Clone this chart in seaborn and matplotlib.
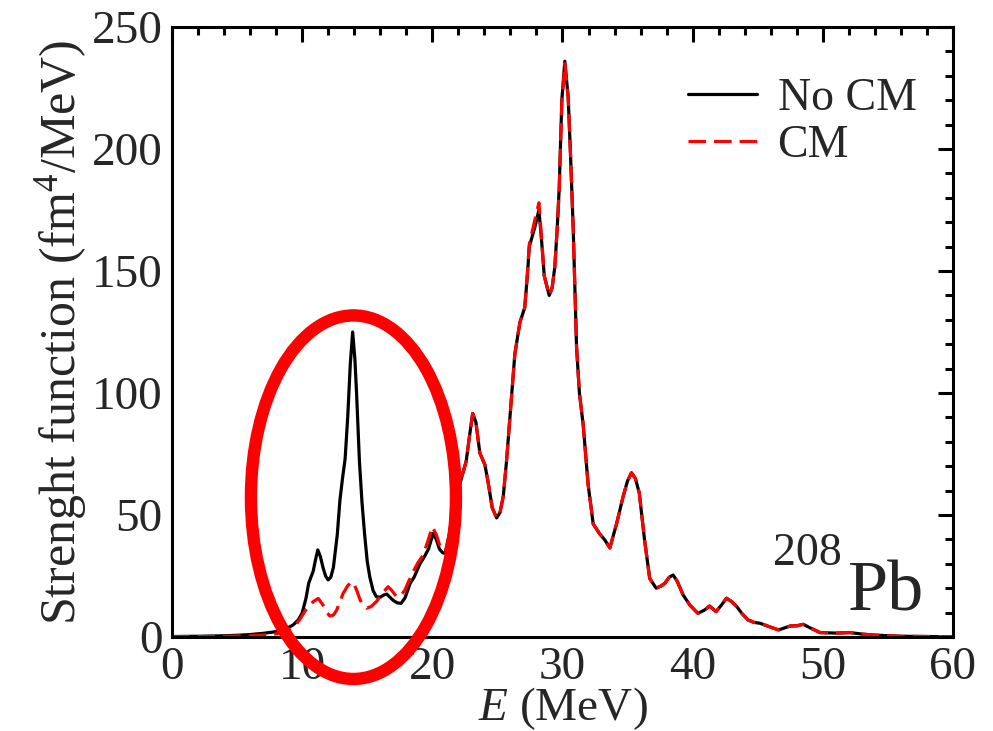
import numpy as np
import seaborn as sns
import matplotlib.pyplot as plt
from matplotlib.patches import Ellipse
from matplotlib.ticker import MultipleLocator

# Strength function of 208Pb, with and without centre-of-mass correction
# low-energy part (E < 21 MeV), where the two curves differ
e_low_nocm = [0, 2, 4, 5, 6, 7, 8, 8.7, 9.3, 9.7, 10.0, 10.3, 10.5, 10.85, 11.0,
              11.2, 11.4, 11.6, 11.8, 12.0, 12.2, 12.4, 12.7, 12.9, 13.1, 13.3,
              13.5, 13.7, 13.88, 14.05, 14.18, 14.4, 14.6, 14.8, 15.0, 15.2,
              15.45, 15.7, 16.0, 16.3, 16.5, 16.8, 17.0, 17.3, 17.6, 17.9, 18.3,
              18.6, 19.05, 19.4, 19.7, 20.07, 20.3, 20.55, 20.8]
s_low_nocm = [0.2, 0.3, 0.5, 0.7, 1.0, 1.5, 2.2, 3.2, 4.9, 7, 9.8, 16, 22, 27, 31,
              35.7, 33, 28.5, 25, 23.4, 24.5, 28.5, 42, 56, 65, 73,
              90, 112, 125, 114, 100, 72, 55, 42, 31, 24.5,
              19, 16.5, 16.3, 17.3, 17.6, 16, 15, 14, 13.8, 16, 22,
              24.5, 30, 33, 36, 42.5, 40, 36, 34.5]

e_low_cm = [0, 2, 4, 6, 7, 8, 8.7, 9.3, 9.8, 10.2, 10.5, 10.85, 11.24, 11.6, 11.9,
            12.13, 12.4, 12.65, 12.9, 13.15, 13.5, 13.8, 14.0, 14.18, 14.4, 14.57,
            14.95, 15.3, 15.7, 16.1, 16.6, 16.9, 17.25, 17.6, 17.9, 18.2, 18.53,
            18.9, 19.3, 19.7, 20.0, 20.3, 20.6]
s_low_cm = [0.1, 0.15, 0.25, 0.5, 0.8, 1.3, 2.2, 3.8, 7, 10.5, 12.5, 14.5, 15.8, 13.1, 10,
            8.6, 9, 11, 14.5, 17.9, 21, 22.7, 21.5, 19.3, 16, 13.8,
            11.8, 12.5, 14.5, 17.5, 20.6, 19, 16.5, 17, 19.3, 23, 26.8,
            30.5, 33.6, 40, 45.2, 42, 37]

# high-energy part (E >= 21 MeV), curves nearly on top of each other
e_high = [21.0, 21.3, 21.6, 22.1, 22.6, 22.9, 23.1, 23.35, 23.65, 24.04, 24.3, 24.6,
          24.94, 25.2, 25.45, 25.7, 25.96, 26.34, 26.73, 27.1, 27.3, 27.45, 27.88,
          28.19, 28.4, 28.6, 28.98, 29.2, 29.41, 29.6, 29.75, 29.95, 30.18, 30.44,
          30.6, 30.82, 31.08, 31.3, 31.59, 31.97, 32.36, 32.87, 33.26, 33.64, 34.15,
          34.66, 35.0, 35.3, 35.6, 35.9, 36.3, 36.7, 37.2, 37.6, 37.86, 38.2, 38.5,
          38.8, 39.27, 39.8, 40.4, 40.9, 41.3, 41.8, 42.2, 42.6, 43.0, 43.4, 43.8,
          44.26, 44.7, 45.2, 45.9, 46.6, 47.1, 47.5, 48.0, 48.5, 49.0, 49.8, 51.0,
          52.1, 53.0, 53.9, 56, 60]
s_high_nocm = [34.3, 42, 52, 62.5, 72, 84, 91.6, 88, 75.4, 70.6, 63, 53,
               48.8, 51, 57.6, 72, 90, 116, 129, 135, 148, 160, 168,
               175, 162, 148, 140, 143, 151.6, 168, 184, 220, 236, 221,
               200, 168, 119, 100, 87, 62.5, 46.3, 42.2, 39.7, 36.5, 46.3,
               57.6, 64, 67.3, 65, 59, 40, 24, 20, 21, 22, 24.5, 25.4,
               23, 17.2, 13, 9.7, 11, 12.7, 10.4, 13, 15.9, 14.5, 12.4, 9.5,
               7, 6, 5.6, 4.2, 2.9, 3.8, 4.5, 4.6, 5.2, 3.8, 1.8, 1.6,
               1.8, 1.2, 0.8, 0.3, 0.1]
s_high_cm = [35, 42, 52, 62.5, 72, 84, 91.6, 88, 75.4, 70.6, 63, 53,
             48.8, 51, 57.6, 72, 90, 116, 129, 135, 149, 161, 171,
             178, 163, 148, 140, 143, 151.6, 168, 184, 219, 235, 221,
             200, 168, 119, 100, 87, 62.5, 46.3, 42.2, 39.7, 36.5, 46.3,
             57.6, 64, 67.3, 65, 59, 40, 24, 20, 21, 22, 24.5, 25.4,
             23, 17.2, 13, 9.7, 11, 12.7, 10.4, 13, 15.9, 14.5, 12.4, 9.5,
             7, 6, 5.6, 4.2, 2.9, 3.8, 4.5, 4.6, 5.2, 3.8, 1.8, 1.6,
             1.8, 1.2, 0.8, 0.3, 0.1]

e_nocm = np.array(e_low_nocm + e_high)
s_nocm = np.array(s_low_nocm + s_high_nocm)
e_cm = np.array(e_low_cm + e_high)
s_cm = np.array(s_low_cm + s_high_cm)

sns.set_style("white")
plt.rcParams['font.family'] = ['Liberation Serif', 'DejaVu Serif']
plt.rcParams['mathtext.fontset'] = 'custom'
plt.rcParams['mathtext.rm'] = 'Liberation Serif'
plt.rcParams['mathtext.it'] = 'Liberation Serif:italic'

fig = plt.figure(figsize=(9.93, 7.31), dpi=100)
ax = fig.add_axes([0.1732, 0.1286, 0.7865, 0.8344])

sns.lineplot(x=e_nocm, y=s_nocm, color='black', lw=2.3, ax=ax, label='No CM')
sns.lineplot(x=e_cm, y=s_cm, color='red', lw=2.3, ls=(0, (5.5, 2.5)), ax=ax, label='CM')

# red circle around the low-lying strength
ax.add_patch(Ellipse((13.94, 57.3), 15.75, 149, fill=False, ec='red', lw=8.9,
                     clip_on=False, zorder=5))

ax.set_xlim(0, 60)
ax.set_ylim(0, 250)
ax.xaxis.set_major_locator(MultipleLocator(10))
ax.xaxis.set_minor_locator(MultipleLocator(2))
ax.yaxis.set_major_locator(MultipleLocator(50))
ax.yaxis.set_minor_locator(MultipleLocator(10))
ax.tick_params(which='both', direction='in', top=True, right=True, width=2.2,
               labelsize=34, color='black')
ax.tick_params(which='major', length=11, pad=7)
ax.tick_params(which='minor', length=6)
for sp in ax.spines.values():
    sp.set_linewidth(2.2)
    sp.set_color('black')

ax.set_xlabel(r'$E$ (MeV)', fontsize=34, labelpad=-3)
ax.set_ylabel(r'Strenght function (fm$^4$/MeV)', fontsize=36, labelpad=2)

ax.text(46.2, 29.5, '208', fontsize=33, ha='left', va='baseline')
ax.text(51.9, 11, 'Pb', fontsize=52, ha='left', va='baseline')

ax.legend(loc='upper left', bbox_to_anchor=(0.661, 0.917), frameon=False,
          fontsize=33, handlelength=1.5, handletextpad=0.45, labelspacing=0.1,
          borderpad=0, borderaxespad=0)

fig.savefig('out.png', dpi=100)
